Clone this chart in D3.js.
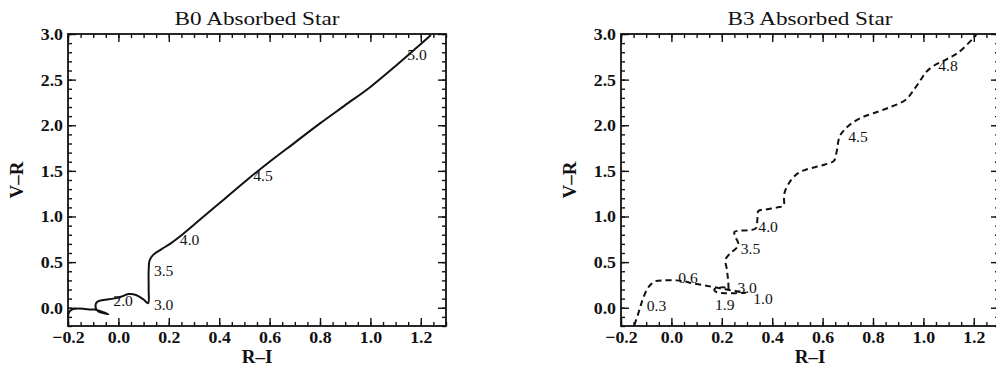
<!DOCTYPE html>
<html>
<head>
<meta charset="utf-8">
<script src="https://cdn.jsdelivr.net/npm/d3@7"></script>
<style>
  html, body { margin: 0; padding: 0; background: #fff; }
  svg { display: block; }
  text { font-family: "Liberation Serif", "Times New Roman", Times, serif; fill: #111; }
</style>
</head>
<body>
<svg id="chart" width="996" height="374"></svg>
<script>
// ---------- DATA ----------
const panelTitles = ["B0 Absorbed Star", "B3 Absorbed Star"];
const xLabel = "R\u2013I";
const yLabel = "V\u2013R";
const xTickValues = [-0.2, 0.0, 0.2, 0.4, 0.6, 0.8, 1.0, 1.2];
const xTickLabels = ["\u22120.2", "0.0", "0.2", "0.4", "0.6", "0.8", "1.0", "1.2"];
const yTickValues = [0.0, 0.5, 1.0, 1.5, 2.0, 2.5, 3.0];
const yTickLabels = ["0.0", "0.5", "1.0", "1.5", "2.0", "2.5", "3.0"];

// B0 track (solid): R-I, V-R
const b0RI = [-0.200, -0.196, -0.185, -0.170, -0.140, -0.110, -0.095, -0.040, -0.080, -0.090, -0.086, -0.060, -0.020, 0.010, 0.040, 0.070, 0.100, 0.118, 0.120, 0.120, 0.124, 0.138, 0.170, 0.205, 0.244, 0.330, 0.420, 0.510, 0.600, 0.700, 0.800, 0.900, 1.000, 1.100, 1.200, 1.240];
const b0VR = [-0.10, -0.05, -0.02, -0.01, -0.01, -0.02, -0.02, -0.07, -0.04, 0.00, 0.06, 0.085, 0.10, 0.12, 0.15, 0.14, 0.09, 0.05, 0.20, 0.40, 0.52, 0.58, 0.64, 0.70, 0.78, 0.98, 1.19, 1.40, 1.60, 1.81, 2.02, 2.22, 2.42, 2.65, 2.89, 2.99];
const b0LabelText = ["2.0", "3.0", "3.5", "4.0", "4.5", "5.0"];
const b0LabelRI = [-0.020, 0.141, 0.141, 0.244, 0.535, 1.146];
const b0LabelVR = [0.015, -0.020, 0.350, 0.690, 1.385, 2.720];

// B3 track (dashed): R-I, V-R
const b3RI = [-0.147, -0.130, -0.120, -0.110, -0.095, -0.080, -0.065, -0.030, 0.020, 0.050, 0.080, 0.120, 0.160, 0.200, 0.240, 0.275, 0.295, 0.255, 0.210, 0.180, 0.170, 0.190, 0.215, 0.225, 0.225, 0.220, 0.215, 0.235, 0.260, 0.265, 0.255, 0.250, 0.270, 0.310, 0.335, 0.340, 0.342, 0.345, 0.380, 0.420, 0.445, 0.447, 0.450, 0.470, 0.500, 0.530, 0.570, 0.610, 0.645, 0.655, 0.668, 0.690, 0.720, 0.760, 0.800, 0.860, 0.930, 0.965, 0.990, 1.010, 1.040, 1.090, 1.140, 1.210];
const b3VR = [-0.19, -0.05, 0.04, 0.12, 0.21, 0.26, 0.29, 0.30, 0.30, 0.29, 0.27, 0.25, 0.23, 0.21, 0.19, 0.175, 0.165, 0.16, 0.16, 0.17, 0.20, 0.22, 0.22, 0.20, 0.30, 0.42, 0.53, 0.60, 0.66, 0.71, 0.77, 0.83, 0.845, 0.85, 0.87, 0.93, 1.00, 1.06, 1.08, 1.10, 1.12, 1.20, 1.27, 1.38, 1.47, 1.51, 1.54, 1.57, 1.61, 1.70, 1.88, 1.96, 2.03, 2.09, 2.13, 2.19, 2.28, 2.40, 2.50, 2.58, 2.65, 2.72, 2.80, 2.99];
const b3LabelText = ["0.3", "0.6", "1.0", "1.9", "3.0", "3.5", "4.0", "4.5", "4.8"];
const b3LabelRI = [-0.098, 0.027, 0.325, 0.173, 0.262, 0.275, 0.345, 0.702, 1.059];
const b3LabelVR = [-0.040, 0.270, 0.044, -0.020, 0.160, 0.590, 0.835, 1.820, 2.590];

// ---------- LAYOUT ----------
const FONT = '"Liberation Serif", "Times New Roman", Times, serif';
const svg = d3.select("#chart");
const plotW = 378, plotTop = 34, plotBottom = 326;
const panelLefts = [68, 621];
const xDomain = [-0.2, 1.3], yDomain = [-0.2, 3.0];

function stretch(sel, factor) {
  sel.each(function () {
    const w = this.getComputedTextLength();
    d3.select(this).attr("textLength", w * factor).attr("lengthAdjust", "spacingAndGlyphs");
  });
}

const panels = [
  { ri: b0RI, vr: b0VR, lt: b0LabelText, lx: b0LabelRI, ly: b0LabelVR, dash: null },
  { ri: b3RI, vr: b3VR, lt: b3LabelText, lx: b3LabelRI, ly: b3LabelVR, dash: "6,4" }
];

panels.forEach((p, i) => {
  const left = panelLefts[i];
  const x = d3.scaleLinear().domain(xDomain).range([left, left + plotW]);
  const y = d3.scaleLinear().domain(yDomain).range([plotBottom, plotTop]);
  const g = svg.append("g").attr("font-family", FONT);

  const xMinor = d3.range(-0.2, 1.3001, 0.05).map(v => +v.toFixed(2));
  const yMinor = d3.range(-0.2, 3.0001, 0.1).map(v => +v.toFixed(2));
  const majorLen = 8, minorLen = 4;

  const axB = d3.axisBottom(x).tickValues(xTickValues).tickSizeInner(-majorLen).tickSizeOuter(0)
    .tickFormat((d, k) => xTickLabels[k]).tickPadding(5);
  const axT = d3.axisTop(x).tickValues(xTickValues).tickSizeInner(-majorLen).tickSizeOuter(0).tickFormat("");
  const axL = d3.axisLeft(y).tickValues(yTickValues).tickSizeInner(-majorLen).tickSizeOuter(0)
    .tickFormat((d, k) => yTickLabels[k]).tickPadding(5);
  const axR = d3.axisRight(y).tickValues(yTickValues).tickSizeInner(-majorLen).tickSizeOuter(0).tickFormat("");

  const mB = d3.axisBottom(x).tickValues(xMinor).tickSize(-minorLen).tickFormat("");
  const mT = d3.axisTop(x).tickValues(xMinor).tickSize(-minorLen).tickFormat("");
  const mL = d3.axisLeft(y).tickValues(yMinor).tickSize(-minorLen).tickFormat("");
  const mR = d3.axisRight(y).tickValues(yMinor).tickSize(-minorLen).tickFormat("");

  const axes = [
    [mB, `translate(0,${plotBottom})`], [mT, `translate(0,${plotTop})`],
    [mL, `translate(${left},0)`], [mR, `translate(${left + plotW},0)`],
    [axB, `translate(0,${plotBottom})`], [axT, `translate(0,${plotTop})`],
    [axL, `translate(${left},0)`], [axR, `translate(${left + plotW},0)`]
  ];
  axes.forEach(([ax, tr]) => {
    const a = g.append("g").attr("transform", tr).call(ax)
      .attr("font-family", FONT).attr("font-size", 17);
    a.select(".domain").remove();
    a.selectAll("line").attr("stroke", "#111").attr("stroke-width", 1.4);
    a.selectAll("text").attr("fill", "#111").style("font-family", FONT)
      .style("font-size", "17px").style("font-weight", "bold");
  });
  g.selectAll("g.tick text").each(function () { stretch(d3.select(this), 1.05); });

  // frame
  g.append("rect").attr("x", left).attr("y", plotTop).attr("width", plotW)
    .attr("height", plotBottom - plotTop).attr("fill", "none")
    .attr("stroke", "#111").attr("stroke-width", 1.8);

  // track
  const pts = p.ri.map((v, k) => [v, p.vr[k]]);
  const line = d3.line().x(d => x(d[0])).y(d => y(d[1])).curve(d3.curveCatmullRom.alpha(0.5));
  g.append("path").attr("d", line(pts)).attr("fill", "none").attr("stroke", "#111")
    .attr("stroke-width", 2).attr("stroke-dasharray", p.dash);

  // annotations
  p.lt.forEach((t, k) => {
    const tx = g.append("text").attr("x", x(p.lx[k])).attr("y", y(p.ly[k]))
      .style("font-size", "15px").text(t);
    stretch(tx, 1.04);
  });

  // title
  const title = g.append("text").attr("x", left + plotW / 2).attr("y", 25)
    .attr("text-anchor", "middle").style("font-size", "19px").text(panelTitles[i]);
  stretch(title, 1.22);

  // axis labels
  g.append("text").attr("x", left + plotW / 2).attr("y", 363)
    .attr("text-anchor", "middle").style("font-size", "19px").attr("font-weight", "bold").text(xLabel);
  g.append("text").attr("transform", `translate(${left - 45},${(plotTop + plotBottom) / 2}) rotate(-90)`)
    .attr("text-anchor", "middle").style("font-size", "19px").attr("font-weight", "bold").text(yLabel);
});
</script>
</body>
</html>
